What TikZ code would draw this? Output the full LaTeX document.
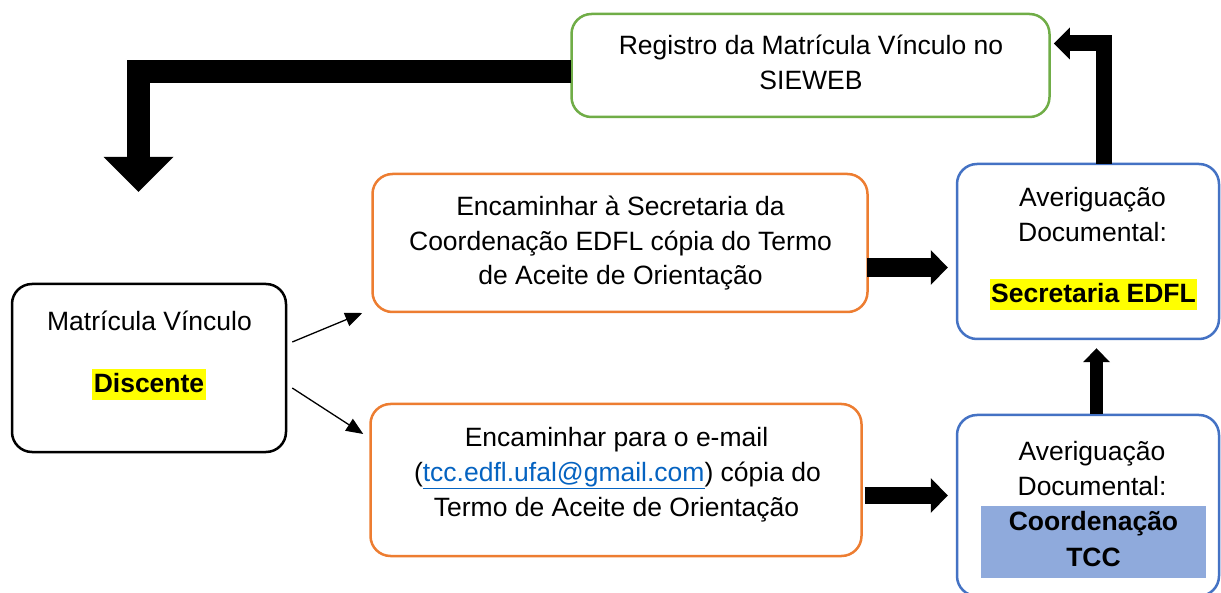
\documentclass[tikz,border=0pt]{standalone}
\usepackage{fontspec}
\setmainfont{Liberation Sans}
\usetikzlibrary{arrows.meta,calc}
\definecolor{orng}{HTML}{ED7D31}
\definecolor{grn}{HTML}{70AD47}
\definecolor{blu}{HTML}{4472C4}
\definecolor{tccfill}{HTML}{8FAADC}
\definecolor{lnk}{HTML}{0563C1}
\definecolor{hl}{HTML}{FFFF00}
\tikzset{
  box/.style={draw=#1, line width=2.5pt, rounded corners=20pt, rectangle, inner sep=0pt, fill=white},
  txt/.style={anchor=base, inner sep=0pt, font=\fontsize{26.5pt}{34pt}\selectfont},
  boldtxt/.style={txt, font=\fontsize{26.5pt}{34pt}\selectfont\bfseries},
  hlbox/.style={boldtxt, fill=hl, inner xsep=1.5pt, text height=24pt, text depth=7pt},
  blockarr/.style n args={3}{line width=#1, line join=miter, -{Triangle[length=#2, width=#3, line width=0pt]}},
  thinarr/.style={line width=1.3pt, -{Triangle[length=17pt, width=14pt]}}
}
\begin{document}
\begin{tikzpicture}[x=1pt,y=-1pt]
\useasboundingbox (0,0) rectangle (1221,593);
\clip (0,0) rectangle (1221,593);
\fill[white] (0,0) rectangle (1221,593);

% boxes
\node[box=grn, minimum width=478pt, minimum height=103pt] (green) at (810.5,65.5) {};
\node[box=orng, minimum width=495pt, minimum height=138pt] (o1) at (620,243) {};
\node[box=orng, minimum width=491pt, minimum height=152pt] (o2) at (616,480) {};
\node[box=blu, minimum width=262pt, minimum height=175pt] (b1) at (1088,251.5) {};
\node[box=blu, minimum width=262pt, minimum height=181pt] (b2) at (1088,505.5) {};
\node[box=black, minimum width=274pt, minimum height=168pt] (mat) at (149,368) {};

% texts
\node[txt] (g1) at (811,55) {Registro da Matrícula Vínculo no};
\node[txt] (g2) at (811,90) {SIEWEB};

\node[txt] (m1) at (149.5,330.7) {Matrícula Vínculo};
\node[hlbox] (m2) at (149,392.7) {Discente};

\node[txt] (p1) at (620.5,216) {Encaminhar à Secretaria da};
\node[txt] (p2) at (620.5,250.7) {Coordenação EDFL cópia do Termo};
\node[txt] (p3) at (620.5,285) {de Aceite de Orientação};

\node[txt] (q1) at (616.5,446.7) {Encaminhar para o e-mail};
\node[txt] (q2) at (617.5,481.7) {({\color{lnk}\underline{tcc.edfl.ufal@gmail.com}}) cópia do};
\node[txt] (q3) at (616.5,516) {Termo de Aceite de Orientação};

\node[txt] (s1) at (1092.5,206.7) {Averiguação};
\node[txt] (s2) at (1092.5,241.7) {Documental:};
\node[hlbox] (s3) at (1093.5,302.7) {Secretaria EDFL};

\node[fill=tccfill, minimum width=225pt, minimum height=72pt, inner sep=0pt] (tccbg) at (1093.5,542) {};
\node[txt] (c1) at (1092,460.7) {Averiguação};
\node[txt] (c2) at (1092,495) {Documental:};
\node[boldtxt] (c3) at (1093.5,530) {Coordenação};
\node[boldtxt] (c4) at (1093.5,566.7) {TCC};

% block arrows
\coordinate (dtip) at (138.5,192);
\draw[blockarr={23pt}{35pt}{70pt}] ($(green.west)+(1,6)$) -| (dtip);
\draw[blockarr={16pt}{16pt}{32pt}] ($(b1.north)+(16,1)$) |- ($(green.east)+(3,-22)$);
\draw[blockarr={13pt}{14pt}{27pt}] ($(b2.north)+(8.5,0)$) -- ($(b1.south)+(8.5,8)$);
\draw[blockarr={19pt}{17pt}{35pt}] ($(o1.east)+(-2,24.5)$) -- ($(b1.west)+(-8,16)$);
\draw[blockarr={17pt}{17pt}{35pt}] ($(o2.east)+(2,15.5)$) -- ($(b2.west)+(-8,-10)$);

% thin arrows
\draw[thinarr] ($(mat.east)+(5,-26)$) -- ($(o1.west)+(-9,70)$);
\draw[thinarr] ($(mat.east)+(5,20)$) -- ($(o2.west)+(-6,-46)$);
\end{tikzpicture}
\end{document}
